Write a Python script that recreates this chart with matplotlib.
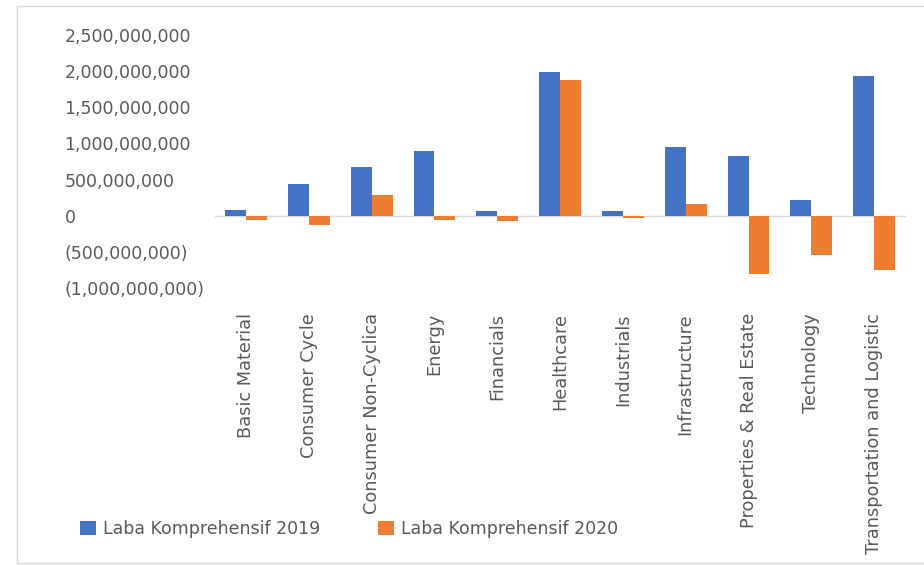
import matplotlib.pyplot as plt
import numpy as np
from matplotlib.patches import Rectangle
from matplotlib.ticker import FuncFormatter

sectors = ["Basic Material", "Consumer Cycle", "Consumer Non-Cyclica", "Energy",
           "Financials", "Healthcare", "Industrials", "Infrastructure",
           "Properties & Real Estate", "Technology", "Transportation and Logistic"]
laba_2019 = [80e6, 445e6, 670e6, 890e6, 70e6, 1990e6, 70e6, 950e6, 825e6, 222e6, 1930e6]
laba_2020 = [-60e6, -125e6, 290e6, -55e6, -70e6, 1875e6, -25e6, 165e6, -800e6, -545e6, -750e6]
yticks = [-1e9, -5e8, 0, 5e8, 1e9, 1.5e9, 2e9, 2.5e9]

blue = '#4472C4'
orange = '#ED7D31'
grey = '#595959'

fig = plt.figure(figsize=(9.24, 5.65), dpi=100)
fig.patches.append(Rectangle((17/924, 1-563/565), 1.0, 557/565, transform=fig.transFigure,
                             fill=False, edgecolor='#d9d9d9', lw=1))
ax = fig.add_axes([214.6/924, 1-288/565, 691/924, 253/565])

x = np.arange(len(sectors))
w = 0.333
ax.bar(x - w/2, laba_2019, w, color=blue, label='Laba Komprehensif 2019')
ax.bar(x + w/2, laba_2020, w, color=orange, label='Laba Komprehensif 2020')
ax.axhline(0, color='#d9d9d9', lw=1, zorder=0)

ax.set_xlim(-0.5, len(sectors) - 0.5)
ax.set_ylim(-1e9, 2.5e9)
ax.set_yticks(yticks)

def fmt(v, pos):
    if v < 0:
        return '({:,.0f})'.format(-v)
    return '{:,.0f}'.format(v)

ax.yaxis.set_major_formatter(FuncFormatter(fmt))
ax.set_xticks(x)
ax.set_xticklabels(sectors, rotation=90, va='top', ha='center')

for s in ax.spines.values():
    s.set_visible(False)
ax.tick_params(axis='y', length=0, pad=108, labelsize=12.5, labelcolor=grey)
ax.tick_params(axis='x', length=0, pad=18, labelsize=12.8, labelcolor=grey)
for lab in ax.get_yticklabels():
    lab.set_horizontalalignment('left')

fig.legend(loc='center left', bbox_to_anchor=(80/924, 1-529/565), ncol=2, frameon=False,
           borderaxespad=0, borderpad=0,
           handlelength=0.9, handleheight=0.9, handletextpad=0.45, columnspacing=3.3,
           fontsize=12.5, labelcolor=grey)

fig.savefig('out.png', dpi=100)
